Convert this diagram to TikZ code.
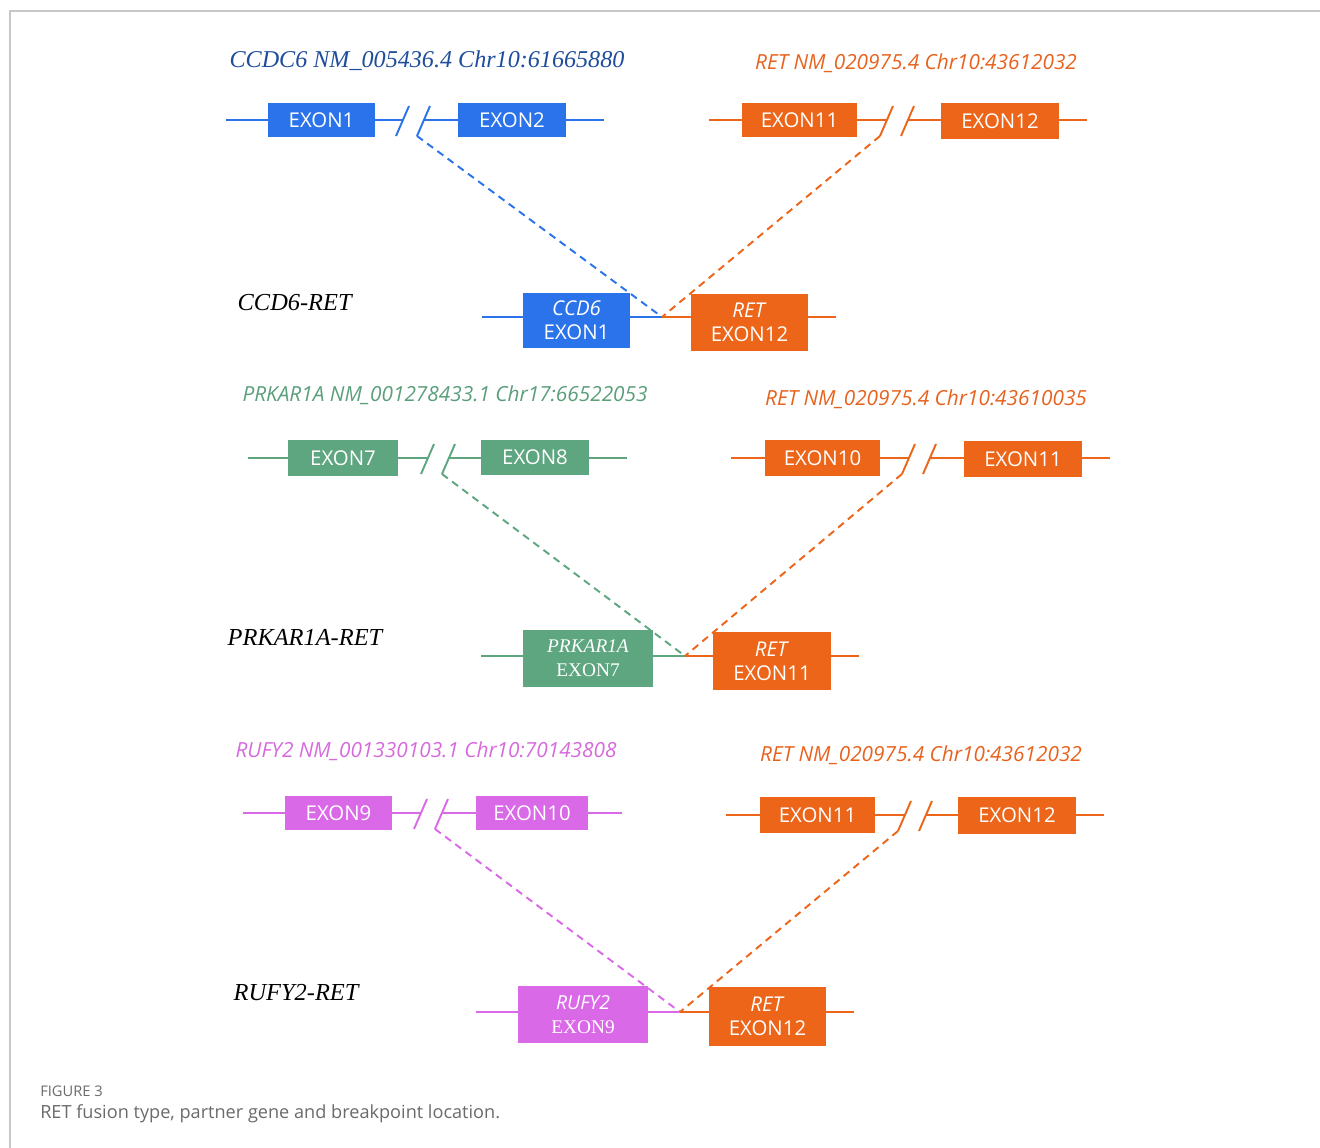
\documentclass[tikz,border=0pt]{standalone}
\usepackage{fontspec}
\setmainfont{Liberation Serif}
\setsansfont{Open Sans}
\definecolor{cblue}{HTML}{2A73EA}
\definecolor{cbluet}{HTML}{1E4D9B}
\definecolor{corange}{HTML}{EC6519}
\definecolor{corant}{HTML}{E8621E}
\definecolor{cgreen}{HTML}{5DA67F}
\definecolor{cgreent}{HTML}{5A9E7A}
\definecolor{cpink}{HTML}{DA69E8}
\definecolor{cpinkt}{HTML}{D66ADD}
\definecolor{cframe}{HTML}{C8C8C8}
\definecolor{ccap}{HTML}{6A6A6A}
\tikzset{
  box/.style 2 args={minimum width=#1*0.75pt, minimum height=#2*0.75pt, inner sep=0pt, text=white},
  exonfont/.style={font=\sffamily\fontsize{15.3}{17}\selectfont},
  fusefont/.style={font=\sffamily\fontsize{15.3}{18}\selectfont, align=center},
  gline/.style={line width=1.45pt},
  gdash/.style={line width=1.45pt, dash pattern=on 5.5pt off 4pt},
  sertitle/.style={font=\rmfamily\itshape\fontsize{18.1}{20}\selectfont},
  sanstitle/.style={font=\sffamily\itshape\fontsize{15.6}{18}\selectfont},
  fuslabel/.style={font=\rmfamily\itshape\fontsize{18.3}{21}\selectfont, anchor=west, text=black},
}
\begin{document}
\begin{tikzpicture}[x=0.75pt,y=-0.75pt]
\useasboundingbox (0,0) rectangle (1320,1148);
% frame
\draw[cframe, line width=0.8pt] (10,1148) -- (10,11) -- (1320,11);

% ================= Block 1 =================
\node[sertitle, text=cbluet] (t1a) at (427,61) {CCDC6 NM\_005436.4 Chr10:61665880};
\node[sanstitle, text=corant] (t1b) at (916,63) {RET NM\_020975.4 Chr10:43612032};
\node[box={107}{34}, fill=cblue, exonfont] (A1) at (321.5,120) {EXON1};
\node[box={108}{34}, fill=cblue, exonfont] (A2) at (512,120) {EXON2};
\node[box={115}{34}, fill=corange, exonfont] (B1) at (799.5,120) {EXON11};
\node[box={118}{36}, fill=corange, exonfont] (B2) at (1000,121) {EXON12};
\coordinate (a0) at (226,120); \coordinate (a1) at (403,120); \coordinate (a2) at (424,120); \coordinate (a3) at (604,120);
\coordinate (b0) at (709,120); \coordinate (b1) at (887,120); \coordinate (b2) at (907,120); \coordinate (b3) at (1087,120);
\draw[gline, cblue] (a0) -- (A1.west |- a0) (A1.east |- a1) -- (a1) (a2) -- (A2.west |- a2) (A2.east |- a3) -- (a3);
\draw[gline, cblue] (396,136) -- (409,106) (417,136) -- (430,106);
\draw[gline, corange] (b0) -- (B1.west |- b0) (B1.east |- b1) -- (b1) (b2) -- (B2.west |- b2) (B2.east |- b3) -- (b3);
\draw[gline, corange] (880,136) -- (893,106) (901,136) -- (914,106);
\coordinate (pa) at (417,136); \coordinate (pb) at (880,136);
% fusion 1
\node[fuslabel] (L1) at (233,303) {CCD6-RET};
\node[box={107}{55}, fill=cblue, fusefont] (F1a) at (576.5,320.5) {\textit{CCD6}\\EXON1};
\node[box={117}{57}, fill=corange, fusefont] (F1b) at (749.5,322.5) {\textit{RET}\\EXON12};
\coordinate (f1l) at (482,317); \coordinate (J1) at (662,317); \coordinate (f1r) at (836,317);
\draw[gline, cblue] (f1l) -- (F1a.west |- f1l) (F1a.east |- J1) -- (J1);
\draw[gline, corange] (J1) -- (F1b.west |- J1) (F1b.east |- f1r) -- (f1r);
\draw[gdash, cblue] (pa) -- (J1);
\draw[gdash, corange] (pb) -- (J1);

% ================= Block 2 =================
\node[sanstitle, text=cgreent] (t2a) at (445,395) {PRKAR1A NM\_001278433.1 Chr17:66522053};
\node[sanstitle, text=corant] (t2b) at (926,399) {RET NM\_020975.4 Chr10:43610035};
\node[box={110}{36}, fill=cgreen, exonfont] (C1) at (343,458) {EXON7};
\node[box={108}{35}, fill=cgreen, exonfont] (C2) at (535,457.5) {EXON8};
\node[box={115}{36}, fill=corange, exonfont] (D1) at (822.5,458) {EXON10};
\node[box={118}{36}, fill=corange, exonfont] (D2) at (1023,459) {EXON11};
\coordinate (c0) at (248,458); \coordinate (c1) at (428,458); \coordinate (c2) at (449,458); \coordinate (c3) at (627,458);
\coordinate (d0) at (731,458); \coordinate (d1) at (909,458); \coordinate (d2) at (930,458); \coordinate (d3) at (1110,458);
\draw[gline, cgreen] (c0) -- (C1.west |- c0) (C1.east |- c1) -- (c1) (c2) -- (C2.west |- c2) (C2.east |- c3) -- (c3);
\draw[gline, cgreen] (421,474) -- (434,444) (442,474) -- (455,444);
\draw[gline, corange] (d0) -- (D1.west |- d0) (D1.east |- d1) -- (d1) (d2) -- (D2.west |- d2) (D2.east |- d3) -- (d3);
\draw[gline, corange] (902,474) -- (915,444) (923,474) -- (936,444);
\coordinate (pc) at (442,474); \coordinate (pd) at (902,474);
% fusion 2
\node[fuslabel] (L2) at (223,637) {PRKAR1A-RET};
\node[box={130}{57}, fill=cgreen, font=\rmfamily\fontsize{14.5}{18}\selectfont, align=center] (F2a) at (588,658.5) {\textit{PRKAR1A}\\EXON7};
\node[box={118}{58}, fill=corange, fusefont] (F2b) at (772,661) {\textit{RET}\\EXON11};
\coordinate (f2l) at (481,656); \coordinate (J2) at (685,656); \coordinate (f2r) at (859,656);
\draw[gline, cgreen] (f2l) -- (F2a.west |- f2l) (F2a.east |- J2) -- (J2);
\draw[gline, corange] (J2) -- (F2b.west |- J2) (F2b.east |- f2r) -- (f2r);
\draw[gdash, cgreen] (pc) -- (J2);
\draw[gdash, corange] (pd) -- (J2);

% ================= Block 3 =================
\node[sanstitle, text=cpinkt] (t3a) at (426,751) {RUFY2 NM\_001330103.1 Chr10:70143808};
\node[sanstitle, text=corant] (t3b) at (921,755) {RET NM\_020975.4 Chr10:43612032};
\node[box={107}{34}, fill=cpink, exonfont] (E1) at (338.5,813) {EXON9};
\node[box={112}{34}, fill=cpink, exonfont] (E2) at (532,813) {EXON10};
\node[box={115}{36}, fill=corange, exonfont] (G1) at (817.5,815) {EXON11};
\node[box={118}{37}, fill=corange, exonfont] (G2) at (1017,815.5) {EXON12};
\coordinate (e0) at (243,813); \coordinate (e1) at (421,813); \coordinate (e2) at (442,813); \coordinate (e3) at (622,813);
\coordinate (g0) at (726,815); \coordinate (g1) at (905,815); \coordinate (g2) at (925,815); \coordinate (g3) at (1104,815);
\draw[gline, cpink] (e0) -- (E1.west |- e0) (E1.east |- e1) -- (e1) (e2) -- (E2.west |- e2) (E2.east |- e3) -- (e3);
\draw[gline, cpink] (414,829) -- (427,799) (435,829) -- (448,799);
\draw[gline, corange] (g0) -- (G1.west |- g0) (G1.east |- g1) -- (g1) (g2) -- (G2.west |- g2) (G2.east |- g3) -- (g3);
\draw[gline, corange] (898,831) -- (911,801) (919,831) -- (932,801);
\coordinate (pe) at (435,829); \coordinate (pg) at (898,831);
% fusion 3
\node[fuslabel] (L3) at (229,993) {RUFY2-RET};
\node[box={130}{57}, fill=cpink, font=\rmfamily\fontsize{14.5}{18}\selectfont, align=center] (F3a) at (583,1014.5) {\textsf{\textit{RUFY2}}\\EXON9};
\node[box={117}{59}, fill=corange, fusefont] (F3b) at (767.5,1016.5) {\textit{RET}\\EXON12};
\coordinate (f3l) at (476,1012); \coordinate (J3) at (680,1012); \coordinate (f3r) at (854,1012);
\draw[gline, cpink] (f3l) -- (F3a.west |- f3l) (F3a.east |- J3) -- (J3);
\draw[gline, corange] (J3) -- (F3b.west |- J3) (F3b.east |- f3r) -- (f3r);
\draw[gdash, cpink] (pe) -- (J3);
\draw[gdash, corange] (pg) -- (J3);

% caption
\node[anchor=west, inner sep=0pt, text=ccap, font=\sffamily\fontsize{11}{13}\selectfont] (cap1) at (40,1091) {FIGURE 3};
\node[anchor=west, inner sep=0pt, text=ccap, font=\sffamily\fontsize{13.6}{16}\selectfont] (cap2) at (40,1114) {RET fusion type, partner gene and breakpoint location.};
\end{tikzpicture}
\end{document}
